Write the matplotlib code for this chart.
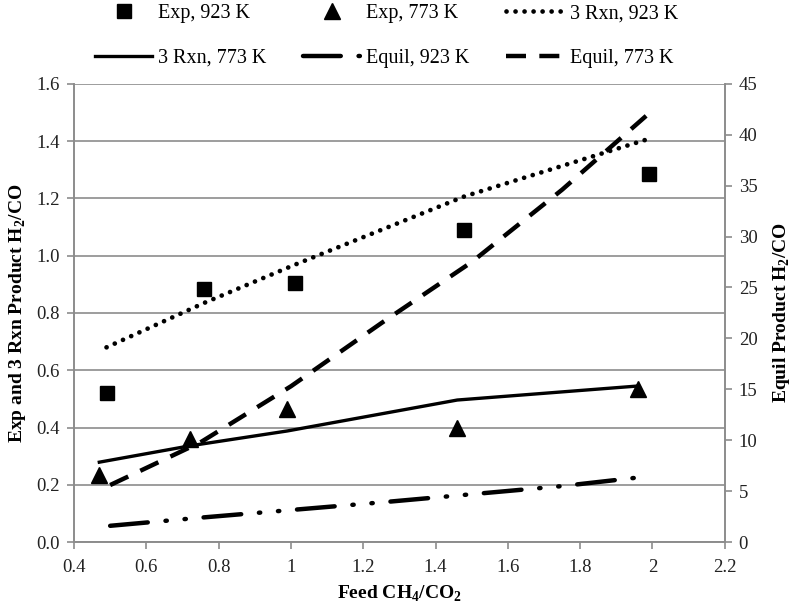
import matplotlib
matplotlib.use("Agg")
import matplotlib.pyplot as plt

plt.rcParams['font.family'] = ['Liberation Serif', 'DejaVu Serif']
plt.rcParams['mathtext.fontset'] = 'custom'
plt.rcParams['mathtext.rm'] = 'Liberation Serif'
plt.rcParams['mathtext.bf'] = 'Liberation Serif:bold'

# Experimental data
exp923_x = [0.49, 0.76, 1.01, 1.48, 1.99]
exp923_y = [0.52, 0.885, 0.905, 1.09, 1.285]
exp773_x = [0.47, 0.72, 0.99, 1.46, 1.96]
exp773_y = [0.235, 0.36, 0.465, 0.40, 0.535]

# 3 reaction model
rxn923_x = [0.49, 0.76, 1.01, 1.48, 1.98]
rxn923_y = [0.68, 0.835, 0.968, 1.207, 1.404]
rxn773_x = [0.47, 0.72, 0.99, 1.46, 1.96]
rxn773_y = [0.279, 0.336, 0.388, 0.496, 0.545]

# Equilibrium (right axis)
eq_x = [0.5, 0.75, 1.0, 1.25, 1.5, 1.75, 1.95]
eq923_y = [1.6, 2.4, 3.15, 3.9, 4.7, 5.5, 6.3]
eq773_x = [0.5, 0.75, 1.0, 1.25, 1.5, 1.75, 2.0]
eq773_y = [5.6, 9.8, 15.3, 21.5, 27.5, 34.6, 42.4]

xticks = [0.4, 0.6, 0.8, 1.0, 1.2, 1.4, 1.6, 1.8, 2.0, 2.2]
xticklabels = ['0.4', '0.6', '0.8', '1', '1.2', '1.4', '1.6', '1.8', '2', '2.2']
yticks_left = [0.0, 0.2, 0.4, 0.6, 0.8, 1.0, 1.2, 1.4, 1.6]
yticks_right = [0, 5, 10, 15, 20, 25, 30, 35, 40, 45]

gray = '#8c8c8c'
fig = plt.figure(figsize=(8, 6.03), dpi=100)
ax = fig.add_axes([0.0925, 0.101, 0.8135, 0.760])
ax2 = ax.twinx()

ax.set_xlim(0.4, 2.2)
ax.set_ylim(0, 1.6)
ax2.set_ylim(0, 45)
ax.set_xticks(xticks)
ax.set_xticklabels(xticklabels)
ax.set_yticks(yticks_left)
ax.set_yticklabels([f'{v:.1f}' for v in yticks_left])
ax2.set_yticks(yticks_right)

ax.grid(axis='y', color=gray, lw=1.2)
ax.set_axisbelow(True)
for a in (ax, ax2):
    for s in a.spines.values():
        s.set_color(gray)
        s.set_linewidth(1.2)
    a.spines['top'].set_visible(False)
    a.tick_params(colors=gray, labelcolor='#222222', labelsize=13.5, width=1.2, length=5, pad=5)
ax.tick_params(axis='x', pad=7)

k = 'black'
l1, = ax.plot(exp923_x, exp923_y, 's', color=k, ms=10, ls='none', label='Exp, 923 K')
l2, = ax.plot(exp773_x, exp773_y, '^', color=k, ms=12, ls='none', label='Exp, 773 K')
l3, = ax.plot(rxn923_x, rxn923_y, color=k, lw=3.4, ls=(0, (0.01, 1.9)), dash_capstyle='round',
              label='3 Rxn, 923 K')
l4, = ax.plot(rxn773_x, rxn773_y, color=k, lw=2.4, label='3 Rxn, 773 K')
l5, = ax2.plot(eq_x, eq923_y, color=k, lw=3.2, ls=(0, (8.5, 4.0, 0.3, 4.0, 0.3, 4.0)),
               dash_capstyle='round', label='Equil, 923 K')
l6, = ax2.plot(eq773_x, eq773_y, color=k, lw=3.2, ls=(0, (4.5, 3.0)), label='Equil, 773 K')

ax.set_xlabel('Feed CH$_\\mathbf{4}$/CO$_\\mathbf{2}$', fontsize=14, fontweight='bold', labelpad=6)
ax.set_ylabel('Exp and 3 Rxn Product H$_\\mathbf{2}$/CO', fontsize=14, fontweight='bold', labelpad=6)
ax2.set_ylabel('Equil Product H$_\\mathbf{2}$/CO', fontsize=14, fontweight='bold', labelpad=10)

handles = [l1, l4, l2, l5, l3, l6]
fig.legend(handles=handles, labels=[h.get_label() for h in handles], ncol=3,
           loc='upper left', bbox_to_anchor=(95 / 800, 1 - 4 / 603), frameon=False,
           borderpad=0, borderaxespad=0,
           fontsize=14.5, labelspacing=1.27, columnspacing=1.8, handlelength=2.85,
           handletextpad=0.3)

fig.savefig('out.png', dpi=100)
